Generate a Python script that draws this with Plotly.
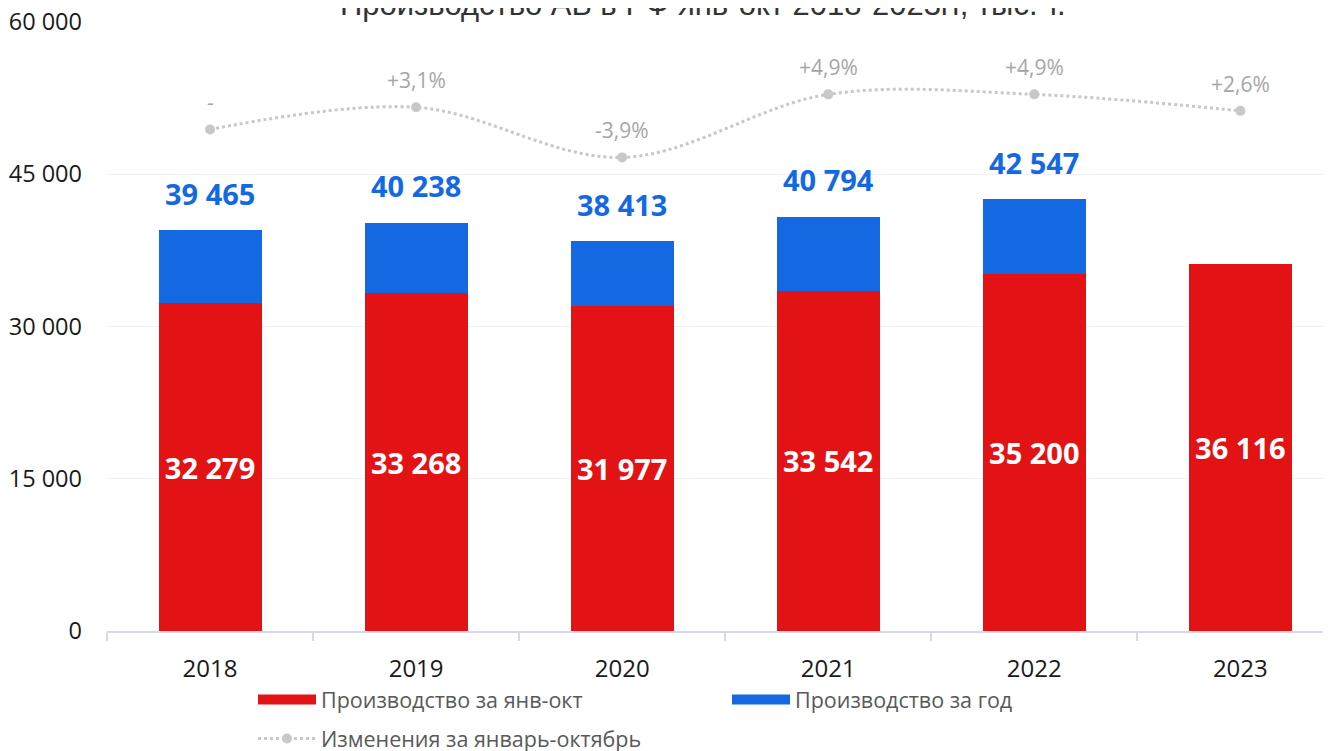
import plotly.graph_objects as go

years = ["2018", "2019", "2020", "2021", "2022", "2023"]
jan_oct = [32279, 33268, 31977, 33542, 35200, 36116]
full_year = [39465, 40238, 38413, 40794, 42547, None]
change_pct = [0, 3.1, -3.9, 4.9, 4.9, 2.6]
change_labels = ["-", "+3,1%", "-3,9%", "+4,9%", "+4,9%", "+2,6%"]

title_text = "Производство АБ в РФ янв-окт 2018-2023гг, тыс. т."
name_red = "Производство за янв-окт"
name_blue = "Производство за год"
name_line = "Изменения за январь-октябрь"

RED = "#e31214"
BLUE = "#1469e3"
GREY_LINE = "#c8c8c8"
GREY_TXT = "#a6a6a6"
FONT = "Open Sans"

# page has an 8px body margin; layout coordinates are page coordinates minus 8
L, T = 99, 14
PLOT_W, PLOT_H = 1224, 609


def fmt(v):
    return f"{v:,}".replace(",", " ")


blue_part = [(t - r) if t is not None else None for t, r in zip(full_year, jan_oct)]

fig = go.Figure()
fig.add_trace(go.Bar(
    x=years, y=jan_oct, name=name_red, marker=dict(color=RED, line=dict(width=0)),
    width=0.5, text=[fmt(v) for v in jan_oct], textposition="inside",
    insidetextanchor="middle", textangle=0, constraintext="none",
    textfont=dict(color="white", size=29, family=FONT, weight=700),
    showlegend=False, hoverinfo="skip"))
fig.add_trace(go.Bar(
    x=years, y=blue_part, name=name_blue, marker=dict(color=BLUE, line=dict(width=0)),
    width=0.5, showlegend=False, hoverinfo="skip"))
fig.add_trace(go.Scatter(
    x=years, y=change_pct, yaxis="y2", mode="lines+markers", name=name_line,
    line=dict(color=GREY_LINE, width=3, dash="dot", shape="spline", smoothing=1),
    marker=dict(color=GREY_LINE, size=10), legend="legend2", hoverinfo="skip"))
# legend swatches
fig.add_trace(go.Scatter(x=[None], y=[None], mode="lines", name=name_red,
                         line=dict(color=RED, width=13), legend="legend"))
fig.add_trace(go.Scatter(x=[None], y=[None], mode="lines", name=name_blue,
                         line=dict(color=BLUE, width=13), legend="legend"))

annotations = []
for i, tot in enumerate(full_year):
    if tot is None:
        continue
    annotations.append(dict(x=i, y=tot, xref="x", yref="y", text=fmt(tot),
                            showarrow=False, yanchor="middle", yshift=37,
                            font=dict(color=BLUE, size=29, family=FONT, weight=700)))
for i, (v, lab) in enumerate(zip(change_pct, change_labels)):
    annotations.append(dict(x=i, y=v, xref="x", yref="y2", text=lab,
                            showarrow=False, yanchor="middle", yshift=27,
                            font=dict(color=GREY_TXT, size=21, family=FONT)))
annotations.append(dict(x=(695 - L) / PLOT_W, y=1 + (T + 4) / PLOT_H, xref="paper", yref="paper",
                        text=title_text, showarrow=False, xanchor="center", yanchor="middle",
                        font=dict(color="#333333", size=31, family="Liberation Sans")))

fig.update_layout(
    width=1331, height=751,
    margin=dict(l=L, r=1331 - L - PLOT_W, t=T, b=751 - T - PLOT_H, autoexpand=False),
    paper_bgcolor="white", plot_bgcolor="white",
    barmode="stack", separators=", ",
    font=dict(family=FONT, color="#1a1a1a"),
    xaxis=dict(type="category", categoryorder="array", categoryarray=years,
               range=[-0.5, 5.44], showline=True, linecolor="#d6d6ec", linewidth=2,
               ticks="outside", tickson="boundaries", ticklen=8, tickcolor="#d6d6ec",
               tickwidth=2, ticklabelstandoff=15, tickfont=dict(size=24, color="#1a1a1a"),
               showgrid=False, zeroline=False, automargin=False),
    yaxis=dict(range=[0, 60000], dtick=15000, tickformat=",", showgrid=True,
               gridcolor="#f0f0f6", gridwidth=1, zeroline=False, showline=False,
               ticks="", ticklabelstandoff=24, ticklabeloverflow="allow",
               tickfont=dict(size=23.5, color="#1a1a1a"), automargin=False),
    yaxis2=dict(range=[-70, 15], overlaying="y", visible=False),
    legend=dict(orientation="h", xref="container", yref="container",
                x=245 / 1331, y=1 - 671 / 751, xanchor="left", yanchor="top",
                traceorder="normal",
                itemwidth=58, entrywidth=401, entrywidthmode="pixels",
                font=dict(size=21.5, color="#595959", family=FONT),
                bgcolor="rgba(0,0,0,0)"),
    legend2=dict(orientation="h", xref="container", yref="container",
                 x=245 / 1331, y=1 - 710 / 751, xanchor="left", yanchor="top",
                 itemwidth=58, font=dict(size=21.5, color="#595959", family=FONT),
                 bgcolor="rgba(0,0,0,0)"),
    annotations=annotations,
)

fig.write_html("out.html")
